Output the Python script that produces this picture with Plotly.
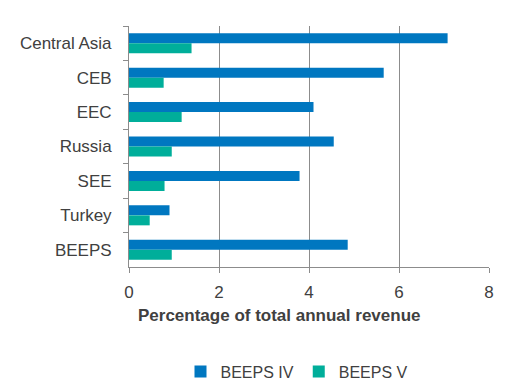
import plotly.graph_objects as go

categories = ["Central Asia", "CEB", "EEC", "Russia", "SEE", "Turkey", "BEEPS"]
beeps_iv = [7.08, 5.66, 4.10, 4.55, 3.79, 0.90, 4.86]
beeps_v = [1.39, 0.77, 1.17, 0.95, 0.79, 0.46, 0.95]
x_ticks = [0, 2, 4, 6, 8]
x_title = "Percentage of total annual revenue"

FONT = "Liberation Sans, Arial, sans-serif"
TXT = "#404040"
GRID = "#8c8c8c"

fig = go.Figure()
fig.add_trace(go.Bar(y=categories, x=beeps_iv, name="BEEPS IV", orientation="h",
                     marker=dict(color="#0077C0", line=dict(width=0))))
fig.add_trace(go.Bar(y=categories, x=beeps_v, name="BEEPS V", orientation="h",
                     marker=dict(color="#00AE9A", line=dict(width=0))))

fig.add_annotation(text="<b>" + x_title + "</b>", xref="paper", yref="paper",
                   x=0.4167, y=-0.20, xanchor="center", yanchor="middle",
                   showarrow=False, font=dict(size=17, color=TXT, family=FONT))

fig.update_layout(
    width=500, height=382,
    margin=dict(l=121, r=19, t=18, b=123, autoexpand=False),
    paper_bgcolor="white", plot_bgcolor="white",
    barmode="group", bargap=0.42, bargroupgap=0,
    font=dict(family=FONT, size=16, color=TXT),
    showlegend=True,
    legend=dict(orientation="h", x=0.345, xanchor="left", xref="container",
                y=0.048, yanchor="middle", yref="container",
                font=dict(size=16, color=TXT), itemwidth=30, traceorder="normal"),
    xaxis=dict(range=[0, 8], tickvals=x_ticks, showgrid=True, gridcolor=GRID, gridwidth=1,
               showline=True, linecolor=GRID, linewidth=1, ticks="outside", ticklen=5,
               tickcolor=GRID, zeroline=False, automargin=False, ticklabelstandoff=5,
               tickfont=dict(size=17, color=TXT)),
    yaxis=dict(autorange="reversed", showline=True, linecolor=GRID, linewidth=1,
               ticks="outside", ticklen=5, tickcolor=GRID, tickson="boundaries",
               showgrid=False, automargin=False, tickfont=dict(size=17, color=TXT),
               ticklabelstandoff=13),
)

fig.write_html("out.html")
